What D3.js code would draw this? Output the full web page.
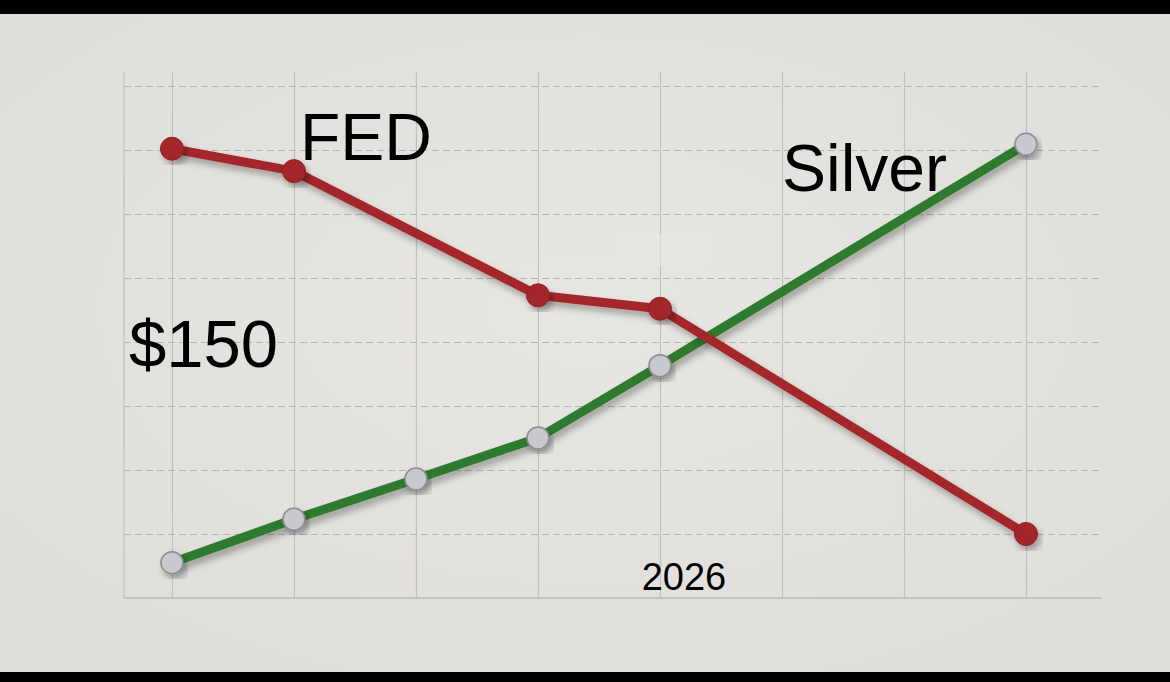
<!DOCTYPE html>
<html>
<head>
<meta charset="utf-8">
<script src="https://cdn.jsdelivr.net/npm/d3@7"></script>
<style>
  html, body { margin: 0; padding: 0; background: #000; }
  svg { display: block; }
</style>
</head>
<body>
<script>
// ---- data ----
const categories = ["2022", "2023", "2024", "2025", "2026", "2027", "2028", "2029"];
const fedValues = [7.02, 6.67, null, 4.73, 4.52, null, null, 1.0];
const silverValues = [0.55, 1.23, 1.86, 2.5, 3.63, null, null, 7.09];
const yTicks = [1, 2, 3, 4, 5, 6, 7, 8];
const seriesLabels = ["FED", "Silver"];
const priceLabel = "$150";
const yearLabel = "2026";

// ---- layout ----
const W = 1170, H = 682;
const svg = d3.select("body").append("svg").attr("width", W).attr("height", H);

const defs = svg.append("defs");
const bg = defs.append("radialGradient").attr("id", "bg").attr("cx", "50%").attr("cy", "45%").attr("r", "70%");
bg.append("stop").attr("offset", "0%").attr("stop-color", "#e8e6e2");
bg.append("stop").attr("offset", "100%").attr("stop-color", "#dfddd9");
const sh = defs.append("filter").attr("id", "shadow").attr("x", "-20%").attr("y", "-20%").attr("width", "140%").attr("height", "140%");
sh.append("feDropShadow").attr("dx", 3).attr("dy", 5).attr("stdDeviation", 3.5).attr("flood-color", "#000").attr("flood-opacity", 0.3);

svg.append("rect").attr("x", 0).attr("y", 0).attr("width", W).attr("height", H).attr("fill", "#000");
svg.append("rect").attr("x", 0).attr("y", 14).attr("width", W).attr("height", 658).attr("fill", "url(#bg)");

const x = d3.scaleLinear().domain([-0.393, 7.623]).range([124, 1102]);
const y = d3.scaleLinear().domain([0, 8]).range([598, 86]);
const gridTop = 72;

// vertical grid (solid)
const xAxis = d3.axisBottom(x).tickValues(d3.range(categories.length)).tickSize(-(598 - gridTop)).tickFormat("");
const gx = svg.append("g").attr("transform", "translate(0,598)").call(xAxis);
gx.select(".domain").remove();
gx.selectAll(".tick line").attr("stroke", "#c2c0bd").attr("stroke-width", 1.2);

// left boundary
svg.append("line").attr("x1", x(-0.393)).attr("x2", x(-0.393)).attr("y1", gridTop).attr("y2", 598)
  .attr("stroke", "#c2c0bd").attr("stroke-width", 1.2);

// horizontal grid (dashed)
const yAxis = d3.axisLeft(y).tickValues(yTicks).tickSize(-(1102 - 124)).tickFormat("");
const gy = svg.append("g").attr("transform", "translate(124,0)").call(yAxis);
gy.select(".domain").remove();
gy.selectAll(".tick line").attr("stroke", "#b8b6b3").attr("stroke-width", 1.2).attr("stroke-dasharray", "7,4");

// bottom axis line
svg.append("line").attr("x1", 124).attr("x2", 1102).attr("y1", y(0)).attr("y2", y(0))
  .attr("stroke", "#b8b6b3").attr("stroke-width", 1.5);

// subtle light patch
svg.append("rect").attr("x", 617).attr("y", 234).attr("width", 94).attr("height", 32).attr("rx", 6)
  .attr("fill", "#e9e7e4").attr("opacity", 0.6);

function pts(vals) {
  return vals.map((v, i) => ({ i, v })).filter(d => d.v != null);
}
const line = d3.line().x(d => x(d.i)).y(d => y(d.v));

// Silver line
const silverPts = pts(silverValues);
svg.append("path").datum(silverPts).attr("d", line).attr("fill", "none")
  .attr("stroke", "#2f7a2d").attr("stroke-width", 9).attr("stroke-linejoin", "round")
  .attr("filter", "url(#shadow)");

// FED line
const fedPts = pts(fedValues);
svg.append("path").datum(fedPts).attr("d", line).attr("fill", "none")
  .attr("stroke", "#a3252a").attr("stroke-width", 9).attr("stroke-linejoin", "round")
  .attr("filter", "url(#shadow)");

svg.append("g").selectAll("circle").data(silverPts).join("circle")
  .attr("cx", d => x(d.i)).attr("cy", d => y(d.v)).attr("r", 11)
  .attr("fill", "#c8c9ce").attr("stroke", "#8d8d91").attr("stroke-width", 1.5)
  .attr("filter", "url(#shadow)");

svg.append("g").selectAll("circle").data(fedPts).join("circle")
  .attr("cx", d => x(d.i)).attr("cy", d => y(d.v)).attr("r", 11.5)
  .attr("fill", "#a3252a").attr("stroke", "#92202a").attr("stroke-width", 1)
  .attr("filter", "url(#shadow)");

// text
const font = "'Liberation Sans', Arial, sans-serif";
svg.append("text").attr("x", 300).attr("y", 160).attr("font-family", font).attr("font-size", 66)
  .attr("fill", "#000").text(seriesLabels[0]);
svg.append("text").attr("x", 782).attr("y", 191).attr("font-family", font).attr("font-size", 66)
  .attr("fill", "#000").text(seriesLabels[1]);
svg.append("text").attr("x", 129).attr("y", 367).attr("font-family", font).attr("font-size", 67)
  .attr("fill", "#000").text(priceLabel);
svg.append("text").attr("x", x(categories.indexOf(yearLabel)) + 24).attr("y", 590)
  .attr("text-anchor", "middle").attr("font-family", font).attr("font-size", 38)
  .attr("fill", "#000").text(yearLabel);
</script>
</body>
</html>
